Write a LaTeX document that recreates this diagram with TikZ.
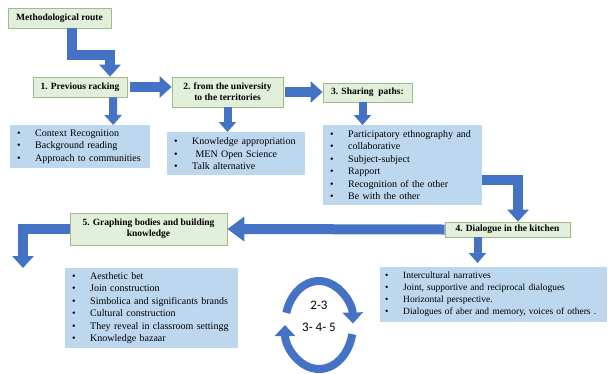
\documentclass[tikz,border=0pt]{standalone}
\usepackage{fontspec}
\setmainfont{Liberation Serif}
\newfontfamily\cycfont{Carlito}
\usetikzlibrary{arrows.meta, positioning}

\definecolor{arrowblue}{HTML}{4472C4}
\definecolor{boxgreen}{HTML}{E2EFDA}
\definecolor{boxedge}{HTML}{A3B98C}
\definecolor{listblue}{HTML}{BDD7EE}

\newcommand{\itm}{\makebox[18pt][l]{\textbullet}}

\begin{document}
\begin{tikzpicture}[
    x=1pt, y=-1pt,
    stage/.style={draw=boxedge, fill=boxgreen, line width=0.8pt, inner sep=2pt, align=center, font=\fontsize{9.5}{11}\selectfont\bfseries},
    items/.style={fill=listblue, inner xsep=7pt, inner ysep=3pt, align=left, anchor=north west, font=\fontsize{10}{12.5}\selectfont},
    flow/.style={draw=arrowblue, line width=10pt, line join=miter, -{Triangle[length=12pt, width=21pt]}},
    drop/.style={draw=arrowblue, line width=8pt, -{Triangle[length=10pt, width=17pt]}},
    cyclearc/.style={draw=arrowblue, line width=8pt, -{Triangle[length=11pt, width=20pt]}}
]
\useasboundingbox (0,0) rectangle (608,373);

% Stages
\node[stage, minimum width=103pt, minimum height=20pt] (route) at (59.5,18) {Methodological route};
\node[stage, minimum width=94pt, minimum height=20pt] (prev) at (80,87) {1. Previous racking};
\node[stage, minimum width=111pt, minimum height=30pt] (univ) at (227.5,92) {2. from the university\\to the territories};
\node[stage, minimum width=89pt, minimum height=19pt] (share) at (367.5,92.5) {3. Sharing\ \ paths:};
\node[stage, minimum width=125pt, minimum height=15pt] (kitchen) at (507.5,229.5) {4. Dialogue\ in\ the kitchen};
\node[stage, minimum width=157pt, minimum height=32pt] (graph) at (148.5,229) {5. Graphing bodies and building\\knowledge};

% Lists
\node[items, text width=126pt, minimum height=43pt] (prevlist) at (10,125)
  {\itm Context Recognition\\\itm Background reading\\\itm Approach to communities};
\node[items, text width=124pt, minimum height=43pt] (univlist) at (167,132)
  {\itm Knowledge appropriation\\\itm\ MEN Open Science\\\itm Talk alternative};
\node[items, text width=145pt, minimum height=80pt] (sharelist) at (323,125)
  {\itm Participatory ethnography and\\\itm collaborative\\\itm Subject-subject\\\itm Rapport\\\itm Recognition of the other\\\itm Be with the other};
\node[items, text width=217pt, inner xsep=5pt, minimum height=55pt, font=\fontsize{9.5}{12}\selectfont] (kitchenlist) at (380,267)
  {\itm Intercultural narratives\\\itm Joint, supportive and reciprocal dialogues\\\itm Horizontal perspective.\\\itm Dialogues of aber and memory, voices of others .};
\node[items, text width=159pt, minimum height=80pt] (graphlist) at (65,268)
  {\itm Aesthetic bet\\\itm Join construction\\\itm Simbolica and significants brands\\\itm Cultural construction\\\itm They reveal in classroom settingg\\\itm Knowledge bazaar};

% Cycle
\coordinate (cycc) at (319,325);
\node[font=\cycfont\fontsize{13}{22}\selectfont, align=center] (cyc) at (319,316) {2-3\\3- 4- 5};

% Arrows
\draw[flow] ([xshift=12.5pt]route.south) -- ++(0,27) -| ([xshift=30pt]prev.north);
\draw[flow] ([xshift=3pt]prev.east) -- (prev.east -| univ.west);
\draw[flow] ([xshift=2pt]univ.east) -- (univ.east -| share.west);
\draw[drop] ([xshift=33pt]prev.south) -- ([xshift=33pt]prevlist.north);
\draw[drop] (univ.south) -- (univ.south |- univlist.north);
\draw[drop] ([xshift=-5pt]share.south) coordinate (s) -- (s |- sharelist.north);
\draw[flow] ([yshift=-15pt]sharelist.east) -| ([xshift=10.5pt]kitchen.north);
\draw[flow, -{Triangle[length=17pt, width=24pt]}] (kitchen.west) -- (graph.east);
\coordinate (down) at (23,268);
\draw[flow] (graph.west) -| (down);
\draw[drop] ([xshift=-30pt]kitchen.south) coordinate (k) -- ([yshift=4pt]k |- kitchenlist.north);

% Cycle arrows
\draw[cyclearc] ([shift={(196:34 and 44)}]cycc) arc[start angle=196, end angle=358, x radius=34, y radius=44];
\draw[cyclearc] ([shift={(12:34 and 44)}]cycc) arc[start angle=12, end angle=180, x radius=34, y radius=44];

\end{tikzpicture}
\end{document}
